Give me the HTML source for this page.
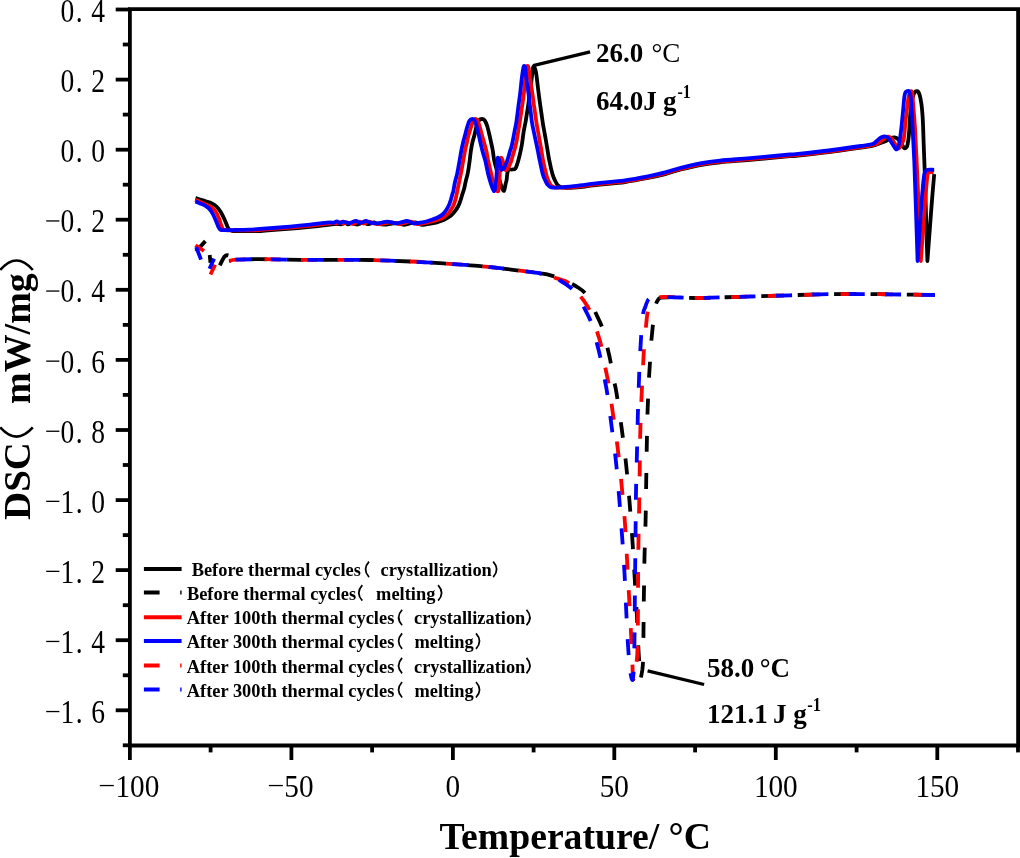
<!DOCTYPE html><html><head><meta charset="utf-8"><style>html,body{margin:0;padding:0;background:#fff;width:1020px;height:858px;overflow:hidden}svg{display:block;will-change:transform}text{font-family:"Liberation Serif",serif}</style></head><body>
<svg width="1020" height="858" viewBox="0 0 1020 858">
<rect width="1020" height="858" fill="#fff"/>
<g stroke="#000" stroke-width="3.8" fill="none" stroke-linecap="butt">
<path d="M129.9 9.2 H1018.1 V745.5 H129.9 Z" stroke-linejoin="miter"/>
<path d="M115.7 9.5 H129.9"/>
<path d="M115.7 79.6 H129.9"/>
<path d="M115.7 149.7 H129.9"/>
<path d="M115.7 219.7 H129.9"/>
<path d="M115.7 289.8 H129.9"/>
<path d="M115.7 359.9 H129.9"/>
<path d="M115.7 430.0 H129.9"/>
<path d="M115.7 500.1 H129.9"/>
<path d="M115.7 570.1 H129.9"/>
<path d="M115.7 640.2 H129.9"/>
<path d="M115.7 710.3 H129.9"/>
<path d="M122.8 44.5 H129.9"/>
<path d="M122.8 114.6 H129.9"/>
<path d="M122.8 184.7 H129.9"/>
<path d="M122.8 254.8 H129.9"/>
<path d="M122.8 324.9 H129.9"/>
<path d="M122.8 394.9 H129.9"/>
<path d="M122.8 465.0 H129.9"/>
<path d="M122.8 535.1 H129.9"/>
<path d="M122.8 605.2 H129.9"/>
<path d="M122.8 675.3 H129.9"/>
<path d="M122.8 745.3 H129.9"/>
<path d="M129.9 745.5 V760"/>
<path d="M291.4 745.5 V760"/>
<path d="M452.9 745.5 V760"/>
<path d="M614.3 745.5 V760"/>
<path d="M775.8 745.5 V760"/>
<path d="M937.3 745.5 V760"/>
<path d="M210.6 745.5 V752.4"/>
<path d="M372.1 745.5 V752.4"/>
<path d="M533.6 745.5 V752.4"/>
<path d="M695.1 745.5 V752.4"/>
<path d="M856.6 745.5 V752.4"/>
<path d="M1018.0 745.5 V752.4"/>
</g>
<g font-size="32.8" fill="#000">
<text transform="translate(67.4 22.1) scale(0.84 1)" text-anchor="middle">0</text>
<text transform="translate(79.2 22.1) scale(0.84 1)" text-anchor="middle">.</text>
<text transform="translate(98.2 22.1) scale(0.84 1)" text-anchor="middle">4</text>
<text transform="translate(67.4 92.2) scale(0.84 1)" text-anchor="middle">0</text>
<text transform="translate(79.2 92.2) scale(0.84 1)" text-anchor="middle">.</text>
<text transform="translate(98.2 92.2) scale(0.84 1)" text-anchor="middle">2</text>
<text transform="translate(67.4 162.3) scale(0.84 1)" text-anchor="middle">0</text>
<text transform="translate(79.2 162.3) scale(0.84 1)" text-anchor="middle">.</text>
<text transform="translate(98.2 162.3) scale(0.84 1)" text-anchor="middle">0</text>
<text transform="translate(67.4 232.3) scale(0.84 1)" text-anchor="middle">0</text>
<text transform="translate(79.2 232.3) scale(0.84 1)" text-anchor="middle">.</text>
<text transform="translate(98.2 232.3) scale(0.84 1)" text-anchor="middle">2</text>
<rect x="46.2" y="220.3" width="13.2" height="1.3"/>
<text transform="translate(67.4 302.4) scale(0.84 1)" text-anchor="middle">0</text>
<text transform="translate(79.2 302.4) scale(0.84 1)" text-anchor="middle">.</text>
<text transform="translate(98.2 302.4) scale(0.84 1)" text-anchor="middle">4</text>
<rect x="46.2" y="290.4" width="13.2" height="1.3"/>
<text transform="translate(67.4 372.5) scale(0.84 1)" text-anchor="middle">0</text>
<text transform="translate(79.2 372.5) scale(0.84 1)" text-anchor="middle">.</text>
<text transform="translate(98.2 372.5) scale(0.84 1)" text-anchor="middle">6</text>
<rect x="46.2" y="360.5" width="13.2" height="1.3"/>
<text transform="translate(67.4 442.6) scale(0.84 1)" text-anchor="middle">0</text>
<text transform="translate(79.2 442.6) scale(0.84 1)" text-anchor="middle">.</text>
<text transform="translate(98.2 442.6) scale(0.84 1)" text-anchor="middle">8</text>
<rect x="46.2" y="430.6" width="13.2" height="1.3"/>
<text transform="translate(67.4 512.7) scale(0.84 1)" text-anchor="middle">1</text>
<text transform="translate(79.2 512.7) scale(0.84 1)" text-anchor="middle">.</text>
<text transform="translate(98.2 512.7) scale(0.84 1)" text-anchor="middle">0</text>
<rect x="46.2" y="500.7" width="13.2" height="1.3"/>
<text transform="translate(67.4 582.7) scale(0.84 1)" text-anchor="middle">1</text>
<text transform="translate(79.2 582.7) scale(0.84 1)" text-anchor="middle">.</text>
<text transform="translate(98.2 582.7) scale(0.84 1)" text-anchor="middle">2</text>
<rect x="46.2" y="570.7" width="13.2" height="1.3"/>
<text transform="translate(67.4 652.8) scale(0.84 1)" text-anchor="middle">1</text>
<text transform="translate(79.2 652.8) scale(0.84 1)" text-anchor="middle">.</text>
<text transform="translate(98.2 652.8) scale(0.84 1)" text-anchor="middle">4</text>
<rect x="46.2" y="640.8" width="13.2" height="1.3"/>
<text transform="translate(67.4 722.9) scale(0.84 1)" text-anchor="middle">1</text>
<text transform="translate(79.2 722.9) scale(0.84 1)" text-anchor="middle">.</text>
<text transform="translate(98.2 722.9) scale(0.84 1)" text-anchor="middle">6</text>
<rect x="46.2" y="710.9" width="13.2" height="1.3"/>
</g>
<g font-size="32.5" fill="#000">
<text transform="translate(137.4 796.8) scale(0.90 1)" text-anchor="middle">100</text>
<rect x="99.8" y="784.9" width="14" height="1.3"/>
<text transform="translate(298.9 796.8) scale(0.90 1)" text-anchor="middle">50</text>
<rect x="268.9" y="784.9" width="14" height="1.3"/>
<text transform="translate(452.9 796.8) scale(0.90 1)" text-anchor="middle">0</text>
<text transform="translate(614.3 796.8) scale(0.90 1)" text-anchor="middle">50</text>
<text transform="translate(775.8 796.8) scale(0.90 1)" text-anchor="middle">100</text>
<text transform="translate(937.3 796.8) scale(0.90 1)" text-anchor="middle">150</text>
</g>
<text x="439.4" y="849.2" font-size="37.7" font-weight="bold">Temperature/ °C</text>
<g transform="translate(29.8 519.9) rotate(-90)" font-size="37" font-weight="bold">
<text transform="scale(1.05 1)" x="0" y="0">DSC</text>
<text transform="translate(116.0 0) scale(1.025 1)" x="0" y="0">mW/mg</text>
<path d="M92.5 -29.6 Q74.1 -13.3 92.5 3" stroke="#000" stroke-width="2.6" fill="none"/>
<path d="M249.9 -29.6 Q268.9 -13.3 249.9 3" stroke="#000" stroke-width="2.6" fill="none"/>
</g>
<path d="M195.9 251.4 L205.4 241.1" fill="none" stroke="#000" stroke-width="3.8"/>
<path d="M209.7 255 L210.5 262.7" fill="none" stroke="#000" stroke-width="3.8"/>
<path d="M219.8 265.4 Q222.5 259.5 224.6 256.4 Q226 254.8 228.4 255.4" fill="none" stroke="#000" stroke-width="3.8"/>
<path d="M229.0 261.0C230.2 260.8 230.8 259.9 236.0 259.6C241.2 259.3 249.3 259.2 260.0 259.2C270.7 259.2 286.7 259.7 300.0 259.8C313.3 259.9 328.3 259.8 340.0 259.8C351.7 259.8 358.3 259.7 370.0 260.0C381.7 260.3 398.3 261.0 410.0 261.5C421.7 262.0 428.7 262.5 440.0 263.2C451.3 263.9 468.0 265.1 478.0 265.9C488.0 266.7 492.1 267.3 500.0 268.2C507.9 269.1 518.8 270.5 525.5 271.4C532.2 272.2 535.8 272.6 540.0 273.3C544.2 274.0 547.3 274.4 550.6 275.3C553.9 276.2 556.8 277.2 560.0 278.5C563.2 279.8 567.0 281.5 570.0 283.0C573.0 284.5 575.7 286.0 578.0 287.5C580.3 289.0 582.0 289.9 584.0 292.0C586.0 294.1 588.2 296.8 590.0 300.0C591.8 303.2 593.5 308.2 595.0 311.5C596.5 314.8 597.8 317.4 599.0 320.0C600.2 322.6 601.0 324.2 602.0 327.0C603.0 329.8 604.1 333.5 605.0 337.0C605.9 340.5 606.7 344.3 607.5 348.0C608.3 351.7 609.2 355.0 610.0 359.0C610.8 363.0 611.8 368.0 612.5 372.0C613.2 376.0 613.8 379.5 614.5 383.0C615.2 386.5 615.3 385.4 616.5 393.0C617.7 400.6 620.1 416.4 621.7 428.5C623.3 440.6 624.9 453.0 626.2 465.4C627.5 477.8 628.6 490.3 629.6 502.7C630.6 515.1 631.6 527.7 632.4 540.0C633.2 552.3 633.9 564.1 634.6 576.5C635.3 588.9 636.1 601.6 636.8 614.2C637.5 626.8 638.1 643.2 638.6 652.0C639.1 660.8 639.5 662.8 639.9 667.0C640.3 671.2 641.0 677.3 641.0 677.3C641.0 677.3 641.9 672.9 642.3 670.0C642.6 667.1 642.9 666.7 643.1 660.0C643.3 653.3 643.4 640.8 643.5 630.0C643.6 619.2 643.7 607.2 643.9 595.0C644.1 582.8 644.2 569.5 644.5 557.0C644.8 544.5 645.3 532.5 645.6 520.0C645.9 507.5 646.0 494.5 646.2 482.0C646.4 469.5 646.6 456.3 646.8 445.0C647.0 433.7 647.3 421.8 647.5 414.0C647.7 406.2 647.9 404.0 648.1 398.0C648.4 392.0 648.7 384.0 649.0 378.0C649.3 372.0 649.7 367.5 650.0 362.0C650.3 356.5 650.6 350.7 651.0 345.0C651.4 339.3 652.1 333.5 652.6 328.0C653.1 322.5 653.7 316.0 654.3 312.0C654.9 308.0 655.3 305.9 656.0 303.8C656.7 301.7 657.5 300.5 658.3 299.5C659.1 298.5 659.0 298.0 661.0 297.6C663.0 297.2 666.8 297.3 670.0 297.3C673.2 297.3 675.0 297.4 680.0 297.5C685.0 297.6 693.3 298.0 700.0 298.0C706.7 298.0 711.7 297.6 720.0 297.4C728.3 297.1 738.3 296.9 750.0 296.5C761.7 296.1 778.3 295.7 790.0 295.3C801.7 294.9 810.0 294.5 820.0 294.3C830.0 294.1 840.0 294.0 850.0 294.0C860.0 294.0 871.7 294.1 880.0 294.2C888.3 294.3 890.8 294.4 900.0 294.5C909.2 294.6 929.2 294.9 935.0 295.0" fill="none" stroke="#000" stroke-width="3.8" stroke-dasharray="1.5 20.4 16.0 20.2 16.0 19.9 16.0 19.9 16.0 19.9 16.0 19.9 16.0 20.3 16.0 20.4 16.0 20.0 16.0 19.2 16.0 21.7 16.0 21.9 16.0 20.4 16.0 23.1 16.0 20.8 16.0 21.4 16.0 21.5 16.0 20.6 16.0 21.6 16.0 22.0 16.0 16.1 16.0 23.8 16.0 20.5 16.0 21.7 16.0 21.1 16.0 21.5 16.0 21.1 16.0 21.4 16.0 20.9 16.0 21.1 16.0 21.3 16.0 20.4 16.0 19.8 16.0 20.4 16.0 20.4 16.0 20.4 16.0 20.4 16.0 20.4 16.0 1000.0"/>
<path d="M195.5 245.2 L204 251" fill="none" stroke="#f00" stroke-width="3.8"/>
<path d="M215.1 264.7 L210.5 274.5" fill="none" stroke="#f00" stroke-width="3.8"/>
<path d="M229.0 261.0C230.2 260.8 230.8 259.9 236.0 259.6C241.2 259.3 249.3 259.2 260.0 259.2C270.7 259.2 286.7 259.7 300.0 259.8C313.3 259.9 328.3 259.8 340.0 259.8C351.7 259.8 358.3 259.7 370.0 260.0C381.7 260.3 398.3 261.0 410.0 261.5C421.7 262.0 428.7 262.5 440.0 263.2C451.3 263.9 468.0 265.1 478.0 265.9C488.0 266.7 492.1 267.3 500.0 268.2C507.9 269.1 518.8 270.5 525.5 271.4C532.2 272.2 535.8 272.6 540.0 273.3C544.2 274.0 548.3 274.6 550.6 275.3C552.9 276.0 551.3 276.4 554.0 277.5C556.7 278.6 563.5 280.1 567.0 282.0C570.5 283.9 572.7 286.5 575.0 289.0C577.3 291.5 579.2 294.5 581.0 297.0C582.8 299.5 584.5 301.7 586.0 304.0C587.5 306.3 588.7 308.2 590.0 311.0C591.3 313.8 592.8 317.6 594.0 321.0C595.2 324.4 596.0 328.2 597.0 331.5C598.0 334.8 599.1 337.6 600.0 341.0C600.9 344.4 601.7 347.8 602.5 352.0C603.3 356.2 604.0 360.5 605.0 366.0C606.0 371.5 607.5 377.4 608.8 385.0C610.1 392.6 611.1 400.8 612.6 411.5C614.1 422.2 616.3 436.6 617.8 449.0C619.3 461.4 620.5 473.6 621.7 486.0C622.9 498.4 624.1 511.2 625.0 523.6C625.9 536.1 626.4 548.4 627.1 560.7C627.8 573.0 628.4 584.9 629.1 597.3C629.8 609.7 630.6 624.5 631.1 635.0C631.6 645.5 632.0 652.8 632.3 660.0C632.6 667.2 632.6 676.0 633.0 678.5C633.4 681.0 634.2 677.8 634.8 675.0C635.4 672.2 636.1 666.3 636.6 662.0C637.1 657.7 637.3 656.0 637.5 649.0C637.7 642.0 637.8 631.5 637.9 620.0C638.0 608.5 638.0 593.3 638.1 580.0C638.2 566.7 638.3 552.5 638.5 540.0C638.7 527.5 639.0 516.7 639.2 505.0C639.4 493.3 639.5 481.7 639.7 470.0C639.9 458.3 640.0 445.8 640.2 435.0C640.5 424.2 640.8 415.0 641.2 405.0C641.6 395.0 642.1 384.5 642.6 375.0C643.1 365.5 643.5 355.8 644.0 348.0C644.5 340.2 645.2 333.8 645.8 328.0C646.4 322.2 646.8 317.1 647.5 313.0C648.2 308.9 648.9 305.8 650.0 303.5C651.1 301.2 652.3 300.1 654.0 299.0C655.7 297.9 657.5 297.5 660.0 297.2C662.5 296.9 665.6 296.9 668.9 297.0C672.2 297.1 674.8 297.3 680.0 297.5C685.2 297.7 693.3 298.0 700.0 298.0C706.7 298.0 711.7 297.6 720.0 297.4C728.3 297.1 738.3 296.9 750.0 296.5C761.7 296.1 778.3 295.7 790.0 295.3C801.7 294.9 810.0 294.5 820.0 294.3C830.0 294.1 840.0 294.0 850.0 294.0C860.0 294.0 871.7 294.1 880.0 294.2C888.3 294.3 890.8 294.4 900.0 294.5C909.2 294.6 929.2 294.9 935.0 295.0" fill="none" stroke="#f00" stroke-width="3.8" stroke-dasharray="0.0 0.6 16.0 19.3 16.0 20.3 16.0 20.3 16.0 20.3 16.0 20.3 16.0 20.4 16.0 20.2 16.0 20.3 16.0 20.8 16.0 17.8 16.0 22.8 16.0 21.4 16.0 20.6 16.0 21.8 16.0 21.9 16.0 21.2 16.0 21.8 16.0 20.6 16.0 21.9 16.0 20.5 16.0 16.9 16.0 20.6 16.0 21.4 16.0 22.0 16.0 20.4 16.0 21.1 16.0 21.4 16.0 21.1 16.0 20.6 16.0 21.8 16.0 20.4 16.0 19.2 16.0 20.8 16.0 20.4 16.0 20.4 16.0 20.4 16.0 20.4 16.0 20.4 16.0 1000.0"/>
<path d="M196.2 247 L201 259.6" fill="none" stroke="#00f" stroke-width="3.8"/>
<path d="M214.1 258.6 L209.5 268.8" fill="none" stroke="#00f" stroke-width="3.8"/>
<path d="M229.0 261.0C230.2 260.8 230.8 259.9 236.0 259.6C241.2 259.3 249.3 259.2 260.0 259.2C270.7 259.2 286.7 259.7 300.0 259.8C313.3 259.9 328.3 259.8 340.0 259.8C351.7 259.8 358.3 259.7 370.0 260.0C381.7 260.3 398.3 261.0 410.0 261.5C421.7 262.0 428.7 262.5 440.0 263.2C451.3 263.9 468.0 265.1 478.0 265.9C488.0 266.7 492.1 267.3 500.0 268.2C507.9 269.1 518.8 270.5 525.5 271.4C532.2 272.2 535.8 272.6 540.0 273.3C544.2 274.0 547.3 274.1 550.6 275.3C553.9 276.5 556.6 278.4 560.0 280.5C563.4 282.6 568.0 285.4 571.0 288.0C574.0 290.6 575.8 292.8 578.0 296.0C580.2 299.2 581.8 303.2 584.0 307.5C586.2 311.8 589.0 316.6 591.0 322.0C593.0 327.4 594.4 334.0 596.0 340.0C597.6 346.0 599.2 352.0 600.5 358.0C601.8 364.0 602.8 369.8 604.0 376.0C605.2 382.2 606.3 387.0 607.5 395.0C608.7 403.0 609.9 413.0 611.3 424.0C612.7 435.0 614.6 448.7 615.9 461.0C617.2 473.3 618.2 485.7 619.2 498.0C620.2 510.3 621.1 522.5 622.0 535.0C622.9 547.5 623.8 560.5 624.5 573.0C625.2 585.5 625.6 597.7 626.2 610.0C626.8 622.3 627.5 637.8 628.1 647.0C628.7 656.2 629.1 660.2 629.6 665.0C630.1 669.8 630.5 673.5 631.0 676.0C631.5 678.5 632.2 680.7 632.6 680.0C633.0 679.3 633.3 677.8 633.6 672.0C633.9 666.2 634.2 656.3 634.4 645.0C634.6 633.7 634.7 617.2 634.8 604.0C634.9 590.8 635.1 578.5 635.2 566.0C635.3 553.5 635.5 541.3 635.6 529.0C635.7 516.7 635.8 504.3 636.0 492.0C636.2 479.7 636.6 467.5 636.9 455.0C637.2 442.5 637.5 428.7 637.8 417.0C638.1 405.3 638.5 394.5 638.8 385.0C639.1 375.5 639.4 368.3 639.8 360.0C640.2 351.7 640.7 342.7 641.2 335.0C641.7 327.3 642.3 318.7 643.0 314.0C643.7 309.3 644.5 309.2 645.3 307.0C646.0 304.8 646.8 302.4 647.5 301.0C648.2 299.6 648.6 299.2 649.5 298.6C650.4 298.0 651.2 297.7 653.0 297.5C654.8 297.3 657.5 297.2 660.0 297.2C662.5 297.1 664.7 297.1 668.0 297.2C671.3 297.2 674.7 297.4 680.0 297.5C685.3 297.6 693.3 298.0 700.0 298.0C706.7 298.0 711.7 297.6 720.0 297.4C728.3 297.1 738.3 296.9 750.0 296.5C761.7 296.1 778.3 295.7 790.0 295.3C801.7 294.9 810.0 294.5 820.0 294.3C830.0 294.1 840.0 294.0 850.0 294.0C860.0 294.0 871.7 294.1 880.0 294.2C888.3 294.3 890.8 294.4 900.0 294.5C909.2 294.6 929.2 294.9 935.0 295.0" fill="none" stroke="#00f" stroke-width="3.8" stroke-dasharray="0.0 6.6 16.0 19.4 16.0 20.8 16.0 20.3 16.0 20.3 16.0 20.3 16.0 19.9 16.0 20.3 16.0 21.2 16.0 18.9 16.0 21.4 16.0 22.0 16.0 22.0 16.0 21.4 16.0 21.4 16.0 21.8 16.0 21.5 16.0 20.6 16.0 21.7 16.0 20.5 16.0 18.1 16.0 23.4 16.0 20.7 16.0 21.3 16.0 21.1 16.0 21.4 16.0 21.4 16.0 21.3 16.0 21.3 16.0 20.8 16.0 21.2 16.0 19.3 16.0 20.0 16.0 20.0 16.0 20.4 16.0 20.4 16.0 20.4 16.0 20.4 16.0 20.4 16.0 1000.0"/>
<path d="M195.5 198.2C196.2 198.4 198.4 199.1 200.0 199.6C201.6 200.1 203.3 200.5 205.0 201.0C206.7 201.5 208.5 202.0 210.0 202.6C211.5 203.2 212.9 203.9 214.2 204.8C215.5 205.7 216.9 206.9 218.0 208.2C219.1 209.5 220.0 210.8 221.0 212.5C222.0 214.2 223.1 216.4 224.0 218.3C224.9 220.2 225.8 222.5 226.5 224.2C227.2 225.9 227.6 227.5 228.5 228.6C229.4 229.7 230.1 230.4 232.0 230.8C233.9 231.2 235.7 230.9 240.0 231.0C244.3 231.1 253.3 231.2 258.0 231.1C262.7 231.0 261.3 230.8 268.0 230.3C274.7 229.8 289.7 228.8 298.0 228.1C306.3 227.4 312.7 226.7 318.0 226.1C323.3 225.5 326.7 224.9 330.0 224.5C333.3 224.1 336.1 223.9 338.0 223.8C339.9 223.8 340.4 224.4 341.5 224.2C342.6 224.0 343.7 222.8 344.8 222.8C345.9 222.8 346.9 224.4 348.0 224.4C349.1 224.4 350.1 223.1 351.1 223.0C352.1 222.9 352.9 223.6 354.0 223.8C355.1 224.1 356.4 224.6 357.5 224.5C358.6 224.4 359.4 223.8 360.5 223.4C361.6 223.1 362.7 222.3 363.9 222.4C365.1 222.5 366.5 224.0 367.7 224.2C368.9 224.4 369.9 223.7 371.0 223.4C372.1 223.1 372.8 222.3 374.0 222.4C375.2 222.5 376.2 223.6 378.0 224.0C379.8 224.4 382.9 224.7 384.9 224.7C386.9 224.7 388.3 224.2 390.0 223.9C391.7 223.6 393.5 223.0 395.2 223.0C396.9 223.0 398.5 223.5 400.0 223.8C401.5 224.1 402.5 224.8 404.0 224.8C405.5 224.8 407.2 224.1 409.0 223.7C410.8 223.3 413.3 222.4 415.0 222.4C416.7 222.4 417.8 223.4 419.0 223.8C420.2 224.2 420.8 224.8 422.0 224.9C423.2 225.0 424.6 224.6 426.0 224.4C427.4 224.2 428.4 224.0 430.2 223.7C432.0 223.4 435.1 222.9 437.0 222.4C438.9 221.9 440.0 221.4 441.5 220.8C443.0 220.2 444.6 219.5 446.2 218.6C447.8 217.7 449.5 216.7 451.0 215.5C452.5 214.3 453.8 212.8 455.0 211.2C456.2 209.6 457.3 207.9 458.3 206.0C459.3 204.1 460.1 201.7 460.8 199.6C461.5 197.5 462.0 195.4 462.6 193.5C463.2 191.6 463.8 190.1 464.3 188.0C464.8 185.9 465.2 183.5 465.8 181.0C466.4 178.5 467.2 176.2 467.8 173.0C468.4 169.8 469.0 165.7 469.5 162.0C470.0 158.3 470.4 154.0 470.9 150.7C471.4 147.4 471.9 144.6 472.5 142.0C473.1 139.4 473.7 138.0 474.4 135.3C475.1 132.6 475.9 128.2 476.7 125.7C477.5 123.2 478.1 121.3 479.0 120.2C479.9 119.1 481.1 119.0 482.0 119.0C482.9 119.0 483.6 119.0 484.5 120.2C485.4 121.4 486.4 123.5 487.2 126.0C488.0 128.5 488.8 132.5 489.5 135.3C490.2 138.1 490.6 140.4 491.2 143.0C491.8 145.6 492.3 147.8 492.8 150.7C493.3 153.6 493.5 157.0 494.2 160.3C494.9 163.6 496.0 167.1 496.9 170.4C497.8 173.7 498.6 177.1 499.5 180.0C500.4 182.9 501.2 186.2 502.0 188.0C502.8 189.8 503.5 191.4 504.1 190.7C504.7 190.0 505.2 185.8 505.6 184.0C506.0 182.2 506.3 181.9 506.6 180.0C506.9 178.1 507.1 174.1 507.5 172.4C507.9 170.7 508.1 170.1 508.8 169.6C509.6 169.1 510.9 169.7 512.0 169.5C513.1 169.3 514.4 169.7 515.4 168.5C516.4 167.3 516.9 165.0 517.7 162.5C518.5 160.0 519.3 156.6 520.0 153.7C520.7 150.8 521.2 148.7 521.8 145.0C522.4 141.3 523.1 135.4 523.7 131.5C524.3 127.6 525.1 124.8 525.6 121.7C526.1 118.6 526.5 116.1 527.0 113.0C527.5 109.9 528.0 106.7 528.5 103.0C529.0 99.3 529.7 95.2 530.2 91.0C530.8 86.8 531.3 81.5 531.8 77.5C532.3 73.5 532.7 68.2 533.3 66.9C533.9 65.6 534.8 68.1 535.3 69.5C535.8 70.9 536.0 71.6 536.5 75.5C537.0 79.4 537.9 87.8 538.6 93.0C539.3 98.2 539.8 102.2 540.5 107.0C541.2 111.8 542.0 117.6 542.6 121.7C543.2 125.8 543.7 128.3 544.3 131.5C544.9 134.7 545.5 137.8 546.0 141.0C546.5 144.2 547.1 147.3 547.6 150.5C548.1 153.7 548.4 156.3 549.3 160.4C550.1 164.5 551.7 171.4 552.7 174.9C553.8 178.4 554.7 179.8 555.6 181.6C556.5 183.4 556.9 184.5 558.0 185.5C559.1 186.5 560.0 187.1 562.0 187.5C564.0 187.9 566.2 188.0 570.0 187.8C573.8 187.6 580.0 187.1 585.0 186.5C590.0 185.9 593.3 185.2 600.0 184.5C606.7 183.8 617.0 183.1 625.0 182.0C633.0 180.9 641.8 179.2 648.0 178.0C654.2 176.8 656.7 176.3 662.0 174.9C667.3 173.5 673.7 171.3 680.0 169.7C686.3 168.1 693.3 166.3 700.0 165.1C706.7 163.9 711.7 163.2 720.0 162.3C728.3 161.4 738.3 160.9 750.0 159.9C761.7 158.9 779.0 157.2 790.0 156.2C801.0 155.2 804.2 155.1 816.0 153.7C827.8 152.3 851.7 149.0 861.0 147.7C870.3 146.4 868.8 146.6 872.0 145.9C875.2 145.2 877.7 144.1 880.0 143.3C882.3 142.5 884.2 141.8 886.0 141.0C887.8 140.2 889.1 138.9 890.5 138.3C891.9 137.7 893.2 137.1 894.5 137.3C895.8 137.5 897.3 138.4 898.5 139.5C899.7 140.6 900.6 142.6 901.5 144.0C902.4 145.4 903.3 147.1 904.0 147.8C904.7 148.5 905.0 148.5 905.5 148.2C906.0 147.9 906.7 147.4 907.2 146.0C907.7 144.6 908.0 142.2 908.3 140.0C908.6 137.8 908.8 136.7 909.1 132.5C909.4 128.3 909.8 119.8 910.2 115.0C910.6 110.2 911.1 106.9 911.5 104.0C911.9 101.1 912.1 99.4 912.6 97.5C913.1 95.6 913.9 93.5 914.5 92.5C915.1 91.5 915.9 91.3 916.5 91.2C917.1 91.1 917.8 91.1 918.3 91.8C918.8 92.5 919.3 93.6 919.8 95.5C920.3 97.4 920.8 100.0 921.3 103.3C921.8 106.5 922.2 111.1 922.5 115.0C922.8 118.9 922.9 120.8 923.1 126.6C923.3 132.4 923.6 142.2 923.9 150.0C924.2 157.8 924.4 162.5 924.8 173.3C925.1 184.1 925.6 200.4 926.0 215.0C926.4 229.6 927.4 261.0 927.4 261.0C927.4 261.0 928.7 243.2 929.5 233.0C930.3 222.8 931.2 209.8 932.0 200.0C932.8 190.2 933.8 178.4 934.2 174.1" fill="none" stroke="#000" stroke-width="3.8" stroke-linejoin="round"/>
<path d="M195.3 199.8C196.1 200.2 198.4 201.3 200.0 202.0C201.6 202.7 203.3 203.2 205.0 204.0C206.7 204.8 208.5 205.6 210.0 206.5C211.5 207.4 212.8 208.2 214.0 209.5C215.2 210.8 216.1 212.2 217.0 214.0C217.9 215.8 218.8 218.0 219.5 220.0C220.2 222.0 220.8 224.4 221.5 226.0C222.2 227.6 222.4 228.8 223.5 229.5C224.6 230.2 226.1 230.2 228.0 230.3C229.9 230.4 230.8 230.3 235.0 230.3C239.2 230.3 248.8 230.5 253.5 230.4C258.2 230.3 256.8 230.1 263.5 229.6C270.2 229.1 285.2 228.1 293.5 227.4C301.8 226.7 308.2 226.0 313.5 225.4C318.8 224.8 322.2 224.2 325.5 223.8C328.8 223.4 331.6 223.1 333.5 223.1C335.4 223.1 335.9 223.7 337.0 223.5C338.1 223.3 339.2 222.1 340.3 222.1C341.4 222.1 342.4 223.7 343.5 223.7C344.6 223.7 345.6 222.4 346.6 222.3C347.6 222.2 348.4 222.8 349.5 223.1C350.6 223.3 351.9 223.9 353.0 223.8C354.1 223.7 354.9 223.0 356.0 222.7C357.1 222.3 358.2 221.6 359.4 221.7C360.6 221.8 362.0 223.3 363.2 223.5C364.4 223.7 365.4 223.0 366.5 222.7C367.6 222.4 368.3 221.6 369.5 221.7C370.7 221.8 371.7 222.9 373.5 223.3C375.3 223.7 378.4 224.0 380.4 224.0C382.4 224.0 383.8 223.5 385.5 223.2C387.2 222.9 389.0 222.3 390.7 222.3C392.4 222.3 394.0 222.8 395.5 223.1C397.0 223.4 398.0 224.1 399.5 224.1C401.0 224.1 402.7 223.4 404.5 223.0C406.3 222.6 408.8 221.7 410.5 221.7C412.2 221.7 413.3 222.7 414.5 223.1C415.7 223.5 416.3 224.1 417.5 224.2C418.7 224.3 420.1 223.9 421.5 223.7C422.9 223.5 423.9 223.4 425.7 223.0C427.4 222.6 429.9 221.8 432.0 221.3C434.1 220.8 436.1 220.5 438.0 219.8C439.9 219.2 441.6 218.5 443.3 217.4C445.1 216.3 446.9 214.7 448.5 213.0C450.1 211.3 451.6 208.8 452.6 207.1C453.6 205.3 453.9 204.2 454.5 202.5C455.1 200.8 455.4 199.6 456.1 196.7C456.8 193.8 457.7 188.9 458.5 185.0C459.3 181.1 460.2 176.8 461.0 173.0C461.8 169.2 462.3 165.7 463.0 162.0C463.7 158.3 464.4 153.9 465.0 150.7C465.6 147.5 466.2 145.6 466.8 143.0C467.4 140.4 467.7 138.2 468.5 135.3C469.3 132.4 470.7 128.2 471.5 125.7C472.3 123.2 472.8 121.3 473.5 120.2C474.2 119.1 474.8 118.8 475.5 118.9C476.2 119.0 476.8 119.4 477.5 120.6C478.2 121.8 478.8 123.5 479.5 126.0C480.2 128.4 481.2 132.5 482.0 135.3C482.8 138.1 483.5 140.4 484.2 143.0C484.9 145.6 485.6 147.8 486.3 150.7C487.0 153.6 487.3 156.5 488.1 160.3C488.9 164.2 490.3 169.9 491.2 173.8C492.1 177.7 492.7 181.2 493.5 183.9C494.3 186.6 495.2 188.6 496.0 189.8C496.8 191.0 497.8 192.1 498.3 190.9C498.8 189.7 498.9 185.7 499.2 182.5C499.4 179.3 499.6 175.4 499.8 172.0C500.0 168.6 500.2 164.4 500.4 162.0C500.6 159.6 500.8 158.2 501.1 157.8C501.4 157.4 501.9 158.5 502.3 159.5C502.7 160.5 503.0 162.2 503.5 164.0C504.0 165.8 504.8 169.2 505.5 170.0C506.2 170.8 506.6 169.8 507.5 168.5C508.4 167.2 509.9 164.5 510.7 162.5C511.5 160.5 511.9 158.4 512.5 156.5C513.1 154.6 513.6 153.1 514.2 150.8C514.8 148.6 515.5 146.2 516.2 143.0C516.9 139.8 517.6 135.1 518.2 131.5C518.8 128.0 519.2 125.8 519.8 121.7C520.4 117.6 521.3 111.8 522.0 107.0C522.7 102.2 523.3 98.1 523.9 93.0C524.5 87.9 525.0 80.9 525.5 76.5C526.0 72.1 526.5 68.1 527.0 66.6C527.5 65.1 528.1 66.1 528.5 67.6C528.9 69.1 528.9 71.3 529.5 75.5C530.1 79.7 531.5 87.8 532.3 93.0C533.1 98.2 533.5 102.2 534.2 107.0C534.9 111.8 535.7 117.6 536.3 121.7C536.9 125.8 537.4 128.3 538.0 131.5C538.6 134.7 539.1 137.8 539.7 141.0C540.3 144.2 540.9 147.3 541.4 150.5C541.9 153.7 542.2 156.3 543.0 160.4C543.8 164.5 545.5 171.5 546.4 174.9C547.3 178.3 547.9 179.4 548.5 181.0C549.1 182.6 549.5 183.5 550.3 184.5C551.0 185.5 552.0 186.3 553.0 186.8C554.0 187.3 554.5 187.6 556.0 187.7C557.5 187.8 559.7 187.6 562.0 187.6C564.3 187.6 566.2 187.9 570.0 187.6C573.8 187.3 580.0 186.4 585.0 185.8C590.0 185.2 593.3 184.6 600.0 183.8C606.7 183.1 617.0 182.4 625.0 181.3C633.0 180.2 641.8 178.5 648.0 177.3C654.2 176.1 656.7 175.6 662.0 174.2C667.3 172.8 673.7 170.6 680.0 169.0C686.3 167.4 693.3 165.6 700.0 164.4C706.7 163.2 711.7 162.5 720.0 161.6C728.3 160.7 738.3 160.2 750.0 159.2C761.7 158.2 779.0 156.5 790.0 155.5C801.0 154.5 804.2 154.4 816.0 153.0C827.8 151.6 851.7 148.3 861.0 147.0C870.3 145.7 869.2 145.8 872.0 145.2C874.8 144.6 876.2 144.3 878.0 143.4C879.8 142.5 881.7 140.6 883.0 139.6C884.3 138.6 885.1 137.9 886.0 137.4C886.9 136.9 887.7 136.6 888.5 136.7C889.3 136.8 890.0 137.0 891.0 138.1C892.0 139.2 893.3 141.3 894.5 143.0C895.7 144.7 897.0 147.8 898.0 148.4C899.0 149.0 899.8 147.4 900.5 146.5C901.2 145.6 901.7 144.4 902.2 143.0C902.8 141.6 903.3 141.0 903.8 138.3C904.3 135.6 904.6 130.9 905.0 127.0C905.4 123.1 905.6 119.9 906.2 115.0C906.8 110.1 907.9 101.2 908.5 97.5C909.1 93.8 909.5 93.5 910.0 92.5C910.5 91.5 911.0 91.1 911.4 91.3C911.8 91.5 912.0 91.5 912.3 93.5C912.6 95.5 912.7 97.8 913.1 103.3C913.5 108.8 914.4 118.8 914.9 126.6C915.4 134.4 915.7 142.2 916.1 150.0C916.5 157.8 916.7 162.5 917.2 173.3C917.7 184.1 918.4 200.4 919.0 215.0C919.6 229.6 920.8 261.0 920.8 261.0C920.8 261.0 922.2 241.7 923.0 231.0C923.8 220.3 924.8 206.2 925.5 197.0C926.2 187.8 926.9 180.0 927.4 176.0C927.9 172.0 928.1 173.4 928.6 172.8C929.1 172.2 929.7 172.3 930.5 172.2C931.3 172.1 933.1 172.2 933.6 172.2" fill="none" stroke="#f00" stroke-width="3.8" stroke-linejoin="round"/>
<path d="M195.5 201.5C196.2 201.8 198.4 202.7 200.0 203.4C201.6 204.1 203.6 204.8 205.0 205.6C206.4 206.4 207.5 207.1 208.5 208.0C209.5 208.9 210.2 209.8 211.0 211.0C211.8 212.2 212.7 213.6 213.5 215.3C214.3 217.0 215.2 219.1 216.0 221.0C216.8 222.9 217.6 225.3 218.3 226.8C219.1 228.3 219.4 229.2 220.5 229.8C221.6 230.4 222.6 230.2 225.0 230.2C227.4 230.2 230.8 230.1 235.0 230.0C239.2 229.9 245.8 229.9 250.0 229.7C254.2 229.5 253.3 229.4 260.0 228.9C266.7 228.4 281.7 227.4 290.0 226.7C298.3 226.0 304.7 225.3 310.0 224.7C315.3 224.1 318.7 223.5 322.0 223.1C325.3 222.7 328.1 222.4 330.0 222.4C331.9 222.4 332.4 223.0 333.5 222.8C334.6 222.6 335.7 221.4 336.8 221.4C337.9 221.4 338.9 223.0 340.0 223.0C341.1 223.0 342.1 221.7 343.1 221.6C344.1 221.5 344.9 222.2 346.0 222.4C347.1 222.7 348.4 223.2 349.5 223.1C350.6 223.0 351.4 222.3 352.5 222.0C353.6 221.7 354.7 220.9 355.9 221.0C357.1 221.1 358.5 222.6 359.7 222.8C360.9 223.0 361.9 222.3 363.0 222.0C364.1 221.7 364.8 220.9 366.0 221.0C367.2 221.1 368.2 222.2 370.0 222.6C371.8 223.0 374.9 223.3 376.9 223.3C378.9 223.3 380.3 222.8 382.0 222.5C383.7 222.2 385.5 221.6 387.2 221.6C388.9 221.6 390.5 222.1 392.0 222.4C393.5 222.7 394.5 223.4 396.0 223.4C397.5 223.4 399.2 222.7 401.0 222.3C402.8 221.9 405.3 221.0 407.0 221.0C408.7 221.0 409.8 222.0 411.0 222.4C412.2 222.8 412.8 223.4 414.0 223.5C415.2 223.6 416.6 223.2 418.0 223.0C419.4 222.8 420.7 222.6 422.2 222.3C423.7 222.0 424.4 222.1 427.0 221.3C429.6 220.5 434.9 218.6 437.5 217.5C440.1 216.4 441.1 215.8 442.5 214.5C443.9 213.2 445.1 211.6 446.2 210.0C447.3 208.4 448.2 206.7 449.0 205.0C449.8 203.3 450.3 201.3 450.9 199.6C451.4 197.8 451.9 196.1 452.3 194.5C452.7 192.9 453.1 192.4 453.5 190.3C453.9 188.2 454.4 184.9 455.0 182.0C455.6 179.1 456.6 176.5 457.3 173.0C458.1 169.5 458.8 164.7 459.5 161.0C460.2 157.3 460.7 153.9 461.3 150.7C461.9 147.5 462.6 144.6 463.2 142.0C463.8 139.4 464.3 137.9 465.0 135.3C465.7 132.7 466.6 128.9 467.3 126.5C468.1 124.1 468.7 122.0 469.5 120.7C470.3 119.4 471.4 118.9 472.3 118.9C473.2 118.9 474.1 119.4 474.8 120.6C475.5 121.8 475.8 123.5 476.5 126.0C477.2 128.4 478.1 132.1 478.8 135.3C479.6 138.5 480.3 142.1 481.0 145.0C481.7 147.9 482.3 150.3 483.0 153.0C483.7 155.7 484.6 157.6 485.4 161.0C486.2 164.4 487.1 169.7 488.0 173.5C488.9 177.3 490.2 181.4 491.0 184.0C491.8 186.6 492.4 188.2 493.0 189.3C493.6 190.4 494.0 191.8 494.5 190.7C495.0 189.6 495.4 185.3 495.8 182.5C496.2 179.7 496.4 177.1 496.6 173.8C496.8 170.6 496.9 165.7 497.1 163.0C497.3 160.3 497.5 158.4 497.8 157.8C498.1 157.2 498.6 158.5 499.0 159.5C499.4 160.5 499.6 162.3 500.0 164.0C500.4 165.7 500.8 168.8 501.4 169.5C502.0 170.2 502.6 169.7 503.5 168.5C504.4 167.3 505.8 164.5 506.6 162.5C507.4 160.5 507.9 158.4 508.5 156.5C509.1 154.6 509.5 152.7 510.1 150.8C510.7 148.9 511.2 148.2 511.9 145.0C512.6 141.8 513.8 135.4 514.5 131.5C515.2 127.6 515.8 125.8 516.4 121.7C517.0 117.6 517.7 111.8 518.3 107.0C518.9 102.2 519.6 98.1 520.2 93.0C520.8 87.9 521.4 80.9 522.0 76.5C522.6 72.1 523.2 68.1 523.7 66.6C524.2 65.1 524.8 66.1 525.2 67.6C525.6 69.1 525.5 71.3 526.0 75.5C526.5 79.7 527.7 87.9 528.4 93.0C529.1 98.1 529.4 101.2 530.0 106.0C530.6 110.8 531.3 117.5 531.9 121.7C532.5 126.0 533.1 128.3 533.8 131.5C534.4 134.7 535.1 137.8 535.8 141.0C536.5 144.2 537.1 147.3 537.8 150.5C538.4 153.7 538.8 156.3 539.7 160.4C540.6 164.5 542.0 171.5 543.0 174.9C544.0 178.3 544.8 179.4 545.5 181.0C546.2 182.6 546.6 183.5 547.4 184.5C548.1 185.5 549.1 186.3 550.0 186.8C550.9 187.3 551.3 187.5 553.0 187.6C554.7 187.7 557.2 187.6 560.0 187.4C562.8 187.2 565.8 187.0 570.0 186.6C574.2 186.2 580.0 185.4 585.0 184.8C590.0 184.2 593.3 183.6 600.0 182.8C606.7 182.1 617.0 181.4 625.0 180.3C633.0 179.2 641.8 177.5 648.0 176.3C654.2 175.1 656.7 174.6 662.0 173.2C667.3 171.8 673.7 169.6 680.0 168.0C686.3 166.4 693.3 164.6 700.0 163.4C706.7 162.2 711.7 161.5 720.0 160.6C728.3 159.7 738.3 159.2 750.0 158.2C761.7 157.2 779.0 155.5 790.0 154.5C801.0 153.5 804.2 153.4 816.0 152.0C827.8 150.6 851.7 147.3 861.0 146.0C870.3 144.7 869.7 144.8 872.0 144.2C874.3 143.6 873.9 143.4 875.0 142.6C876.1 141.8 877.6 140.1 878.7 139.2C879.8 138.3 880.5 137.7 881.5 137.2C882.5 136.7 883.5 136.3 884.4 136.3C885.3 136.3 886.1 136.6 887.0 137.1C887.9 137.6 888.5 137.9 889.5 139.3C890.5 140.7 892.2 143.8 893.3 145.4C894.4 147.1 895.2 148.7 895.9 149.2C896.6 149.7 897.0 149.2 897.5 148.3C898.0 147.5 898.5 146.1 899.0 144.1C899.5 142.1 899.9 139.4 900.3 136.5C900.7 133.6 901.0 131.2 901.5 126.6C902.0 122.0 902.7 114.2 903.2 109.2C903.7 104.2 904.0 99.3 904.4 96.5C904.8 93.7 905.1 93.2 905.5 92.3C905.9 91.4 906.4 91.4 907.0 91.2C907.6 91.0 908.4 90.4 909.0 91.3C909.6 92.2 910.1 92.5 910.6 96.5C911.1 100.5 911.6 108.0 912.0 115.0C912.4 122.0 912.7 130.5 913.1 138.3C913.5 146.1 913.8 150.5 914.3 161.6C914.8 172.7 915.2 188.4 915.8 205.0C916.3 221.6 917.6 261.0 917.6 261.0C917.6 261.0 918.6 244.7 919.3 235.0C919.9 225.3 920.9 211.7 921.5 203.0C922.1 194.3 922.8 187.8 923.2 183.0C923.7 178.2 923.8 176.5 924.2 174.5C924.6 172.5 925.0 172.0 925.5 171.2C926.0 170.4 926.0 170.0 927.5 169.8C929.0 169.6 933.1 169.8 934.2 169.8" fill="none" stroke="#00f" stroke-width="3.8" stroke-linejoin="round"/>
<path d="M590.1 51.8 L533.1 65.6" stroke="#000" stroke-width="3.3" fill="none"/>
<path d="M647.6 670.8 L704.1 684.5" stroke="#000" stroke-width="3.3" fill="none"/>
<g font-weight="bold" fill="#000" font-size="27">
<text x="596.0" y="62">26.0</text>
<text x="651.5" y="62.3" font-weight="normal">°C</text>
<text x="596.0" y="109.7">64.0J</text>
<text x="663.0" y="109.7">g</text>
<text x="677.5" y="98.4" font-size="19" textLength="13.2" lengthAdjust="spacingAndGlyphs">-1</text>
<text x="707.0" y="676.8">58.0</text>
<text x="759.8" y="676.8">°C</text>
<text x="707.0" y="722.6">121.1</text>
<text x="773.0" y="722.6">J</text>
<text x="793.3" y="722.6">g</text>
<text x="807.3" y="710.9" font-size="19" textLength="13.8" lengthAdjust="spacingAndGlyphs">-1</text>
</g>
<path d="M143.9 569.1 H181.6" stroke="#000" stroke-width="4"/>
<text x="191.7" y="576.3" font-size="18.4" font-weight="bold">Before thermal cycles</text>
<text x="380.5" y="576.3" font-size="18.4" font-weight="bold">crystallization</text>
<path d="M369.0 561.6 Q362.0 569.4 369.0 577.1" stroke="#000" stroke-width="1.7" fill="none"/>
<path d="M493.2 561.6 Q500.2 569.4 493.2 577.1" stroke="#000" stroke-width="1.7" fill="none"/>
<path d="M143.9 592.6 H159.6 M180.2 592.6 H181.6" stroke="#000" stroke-width="4"/>
<text x="186.9" y="599.8" font-size="18.4" font-weight="bold">Before thermal cycles</text>
<text x="376.1" y="599.8" font-size="18.4" font-weight="bold">melting</text>
<path d="M362.3 585.1 Q355.3 592.9 362.3 600.6" stroke="#000" stroke-width="1.7" fill="none"/>
<path d="M438.1 585.1 Q445.1 592.9 438.1 600.6" stroke="#000" stroke-width="1.7" fill="none"/>
<path d="M143.9 617.2 H181.6" stroke="#f00" stroke-width="4"/>
<text x="186.8" y="624.4" font-size="18.4" font-weight="bold">After 100th thermal cycles</text>
<text x="414.0" y="624.4" font-size="18.4" font-weight="bold">crystallization</text>
<path d="M402.1 609.7 Q395.1 617.5 402.1 625.2" stroke="#000" stroke-width="1.7" fill="none"/>
<path d="M526.5 609.7 Q533.5 617.5 526.5 625.2" stroke="#000" stroke-width="1.7" fill="none"/>
<path d="M143.9 640.9 H181.6" stroke="#00f" stroke-width="4"/>
<text x="186.8" y="648.1" font-size="18.4" font-weight="bold">After 300th thermal cycles</text>
<text x="414.5" y="648.1" font-size="18.4" font-weight="bold">melting</text>
<path d="M402.1 633.4 Q395.1 641.2 402.1 648.9" stroke="#000" stroke-width="1.7" fill="none"/>
<path d="M476.0 633.4 Q483.0 641.2 476.0 648.9" stroke="#000" stroke-width="1.7" fill="none"/>
<path d="M143.9 665.4 H159.6 M180.2 665.4 H181.6" stroke="#f00" stroke-width="4"/>
<text x="186.8" y="672.6" font-size="18.4" font-weight="bold">After 100th thermal cycles</text>
<text x="414.0" y="672.6" font-size="18.4" font-weight="bold">crystallization</text>
<path d="M402.1 657.9 Q395.1 665.7 402.1 673.4" stroke="#000" stroke-width="1.7" fill="none"/>
<path d="M526.5 657.9 Q533.5 665.7 526.5 673.4" stroke="#000" stroke-width="1.7" fill="none"/>
<path d="M143.9 689.5 H159.6 M180.2 689.5 H181.6" stroke="#00f" stroke-width="4"/>
<text x="186.8" y="696.7" font-size="18.4" font-weight="bold">After 300th thermal cycles</text>
<text x="414.5" y="696.7" font-size="18.4" font-weight="bold">melting</text>
<path d="M402.1 682.0 Q395.1 689.8 402.1 697.5" stroke="#000" stroke-width="1.7" fill="none"/>
<path d="M476.0 682.0 Q483.0 689.8 476.0 697.5" stroke="#000" stroke-width="1.7" fill="none"/>
</svg></body></html>
